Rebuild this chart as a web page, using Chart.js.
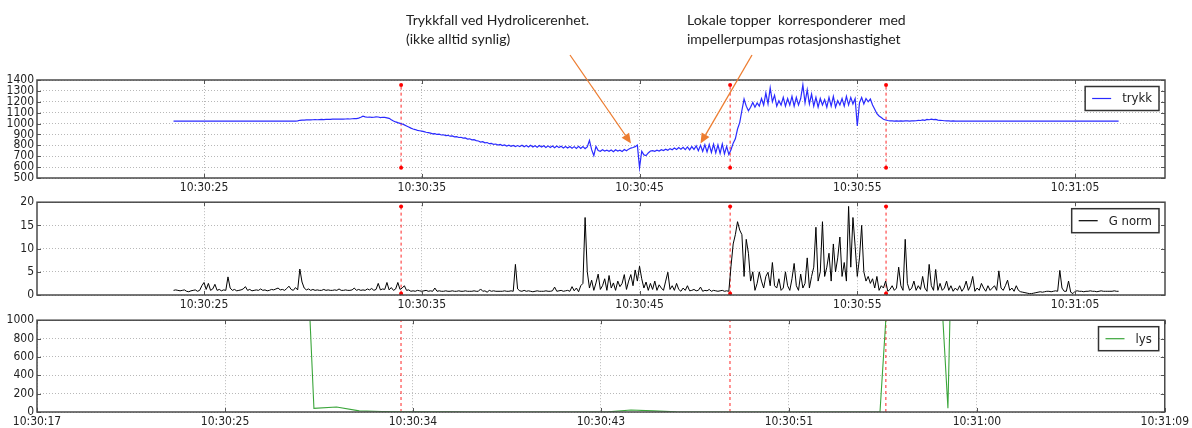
<!DOCTYPE html>
<html lang="no">
<head>
<meta charset="utf-8">
<title>Trykk, G norm og lys</title>
<script src="https://cdn.jsdelivr.net/npm/chart.js@4.4.1/dist/chart.umd.min.js"></script>
<style>
  html, body { margin: 0; padding: 0; background: #fff; }
  #flate { position: relative; width: 1192px; height: 428px; overflow: hidden; }
  #flate canvas { position: absolute; left: 0; }
  .merknad {
    position: absolute;
    font-family: Lato, 'Noto Sans', sans-serif;
    font-size: 14px;
    line-height: 19px;
    color: #222;
    white-space: pre;
  }
</style>
</head>
<body>
<div id="flate">
  <canvas id="trykk-chart" width="1192" height="192" style="top:0"></canvas>
  <canvas id="gnorm-chart" width="1192" height="118" style="top:192px"></canvas>
  <canvas id="lys-chart" width="1192" height="118" style="top:310px"></canvas>
  <div class="merknad" style="left:406px; top:10px">Trykkfall ved Hydrolicerenhet.
(ikke alltid synlig)</div>
  <div class="merknad" style="left:687px; top:10px">Lokale topper  korresponderer  med
impellerpumpas rotasjonshastighet</div>
</div>

<script>
// Tid i sekunder etter 10:30:00
const xMin = 17.33;
const xMax = 69.13;

// Tikk for de to øverste panelene og for lys-panelet
const xTikkTopp = [25, 35, 45, 55, 65];
const xTikkLys = [17.33, 25.97, 34.6, 43.23, 51.87, 60.5, 69.13];

// Røde markeringslinjer (tidspunkt)
const markorTider = [34.05, 49.16, 56.32];

// Trykk: målt hvert 0,1 s fra 10:30:23.6
const trykkStart = 23.6;
const trykkSteg = 0.1;
const trykkVerdier = [
  1022, 1023, 1022, 1022, 1023, 1022, 1022, 1023, 1022, 1022,
  1022, 1023, 1022, 1022, 1022, 1023, 1022, 1022, 1023, 1022,
  1022, 1022, 1023, 1022, 1022, 1022, 1023, 1022, 1022, 1022,
  1023, 1022, 1022, 1022, 1023, 1022, 1022, 1022, 1023, 1022,
  1022, 1022, 1023, 1022, 1022, 1022, 1023, 1022, 1022, 1023,
  1022, 1023, 1022, 1022, 1023, 1022, 1022, 1025, 1030, 1032,
  1032, 1033, 1034, 1033, 1035, 1036, 1035, 1037, 1038, 1037,
  1038, 1039, 1038, 1040, 1041, 1040, 1041, 1042, 1041, 1042,
  1043, 1042, 1044, 1045, 1046, 1050, 1058, 1068, 1062, 1058,
  1060, 1056, 1058, 1062, 1060, 1055, 1058, 1056, 1052, 1048,
  1035, 1024, 1015, 1008, 1002, 996, 988, 978, 968, 958,
  950, 945, 938, 934, 930, 926, 920, 916, 912, 905,
  908, 900, 902, 895, 897, 890, 892, 884, 886, 878,
  880, 872, 874, 866, 868, 858, 860, 850, 852, 843,
  840, 830, 834, 823, 826, 815, 818, 808, 812, 802,
  808, 798, 804, 794, 801, 791, 799, 789, 798, 788,
  800, 786, 798, 784, 800, 785, 797, 783, 798, 784,
  796, 780, 795, 780, 794, 778, 793, 779, 792, 776,
  790, 775, 789, 773, 788, 772, 790, 771, 788, 770,
  785, 845, 760, 706, 790, 752, 745, 760, 748, 755,
  745, 758, 742, 760, 748, 756, 744, 762, 750, 765,
  775, 780, 788, 802, 595, 746, 712, 706, 730, 748,
  752, 745, 755, 748, 760, 752, 765, 755, 770, 760,
  775, 762, 780, 765, 782, 760, 785, 758, 788, 762,
  795, 750, 800, 745, 805, 740, 808, 735, 810, 730,
  805, 725, 812, 722, 790, 716, 760, 820, 860, 950,
  1009, 1120, 1225, 1160, 1117, 1150, 1194, 1150, 1190, 1160,
  1230, 1170, 1280, 1180, 1327, 1200, 1260, 1160, 1210, 1170,
  1240, 1160, 1230, 1170, 1250, 1160, 1240, 1170, 1230, 1355,
  1190, 1310, 1180, 1270, 1160, 1240, 1150, 1230, 1170, 1220,
  1150, 1240, 1160, 1250, 1150, 1210, 1170, 1230, 1160, 1250,
  1170, 1240, 1180, 1230, 978, 1190, 1240, 1180, 1230, 1200,
  1225, 1170, 1132, 1090, 1070, 1055, 1040, 1033, 1028, 1025,
  1024, 1023, 1024, 1022, 1024, 1023, 1025, 1024, 1023, 1024,
  1025, 1026, 1030, 1028, 1034, 1030, 1038, 1035, 1040, 1036,
  1038, 1032, 1030, 1028, 1026, 1025, 1024, 1023, 1024, 1023,
  1022, 1023, 1022, 1022, 1023, 1022, 1022, 1023, 1022, 1022,
  1023, 1022, 1022, 1023, 1022, 1022, 1022, 1023, 1022, 1022,
  1022, 1022, 1023, 1022, 1022, 1023, 1022, 1022, 1022, 1023,
  1022, 1023, 1022, 1022, 1022, 1023, 1022, 1022, 1023, 1022,
  1022, 1022, 1023, 1022, 1023, 1022, 1022, 1022, 1023, 1022,
  1023, 1022, 1022, 1022, 1023, 1022, 1023, 1022, 1022, 1022,
  1022, 1023, 1022, 1022, 1023, 1022, 1022, 1022, 1023, 1022,
  1022, 1023, 1022, 1022, 1022
];

// G norm: samme tidsakse som trykk
const gnormStart = 23.6;
const gnormSteg = 0.1;
const gnormVerdier = [
  1.0, 1.1, 1.0, 0.9, 1.0, 1.1, 0.8, 0.7, 0.9, 1.0,
  1.1, 0.8, 1.0, 2.0, 2.7, 1.2, 2.5, 1.0, 1.3, 2.3,
  1.0, 1.2, 0.9, 1.1, 1.0, 3.9, 1.5, 1.0, 1.2, 0.9,
  1.0, 1.1, 1.3, 1.8, 1.0, 1.2, 0.9, 1.0, 1.1, 1.0,
  1.3, 1.0, 1.1, 0.9, 1.0, 1.2, 1.1, 1.3, 1.5, 1.1,
  1.2, 1.0, 1.4, 1.9, 1.2, 1.0, 1.6, 1.1, 5.6, 2.8,
  1.5, 1.1, 1.3, 1.0, 1.2, 1.0, 1.1, 1.0, 1.0, 1.2,
  1.0, 1.1, 1.0, 1.0, 1.1, 1.0, 1.3, 1.0, 1.0, 1.1,
  1.0, 1.0, 1.1, 1.5, 1.0, 1.2, 1.0, 1.1, 1.0, 1.3,
  1.1, 1.4, 1.0, 1.2, 2.5, 1.1, 1.3, 1.2, 2.7, 1.1,
  1.6, 1.0, 1.3, 2.7, 1.2, 1.5, 2.0, 1.0, 1.1, 0.8,
  0.9, 0.8, 1.0, 0.9, 0.8, 0.9, 1.0, 0.8, 0.9, 0.8,
  1.5, 0.8, 0.9, 0.8, 0.8, 0.9, 0.8, 0.8, 0.9, 0.8,
  0.8, 0.9, 0.8, 0.8, 0.9, 0.8, 0.8, 0.8, 0.9, 0.8,
  0.8, 1.3, 0.8, 0.9, 0.6, 1.0, 0.8, 0.9, 0.8, 0.8,
  0.8, 0.8, 0.9, 0.8, 0.8, 0.9, 0.8, 6.6, 1.3, 0.9,
  0.8, 1.0, 0.8, 0.9, 0.8, 0.7, 0.8, 0.9, 0.8, 0.8,
  0.8, 0.9, 0.8, 0.8, 0.9, 1.7, 0.8, 0.9, 1.0, 0.8,
  0.9, 1.0, 0.8, 1.8, 0.9, 1.5, 0.7, 2.0, 2.5, 16.7,
  5.0, 1.5, 3.2, 1.0, 2.6, 4.5, 1.2, 2.0, 3.5, 1.0,
  4.2, 1.5, 2.6, 1.0, 3.0, 1.8, 2.5, 4.4, 1.2, 3.0,
  4.4, 2.0, 5.4, 3.0, 6.2, 3.5, 1.5, 2.8, 1.0, 2.5,
  1.2, 3.0, 1.0, 2.2, 1.5, 1.0, 3.0, 4.9, 1.2, 2.0,
  1.0, 2.5, 1.2, 0.8, 1.5, 1.0, 2.0, 0.9, 1.0, 1.2,
  0.9, 1.0, 1.7, 0.8, 1.0, 0.9, 1.2, 0.8, 1.0, 0.9,
  0.8, 0.9, 1.0, 0.8, 0.9, 0.8, 6.2, 11.0, 13.0, 15.8,
  14.0, 13.0, 4.0, 12.0, 9.0, 3.0, 5.0, 1.0, 2.5, 5.0,
  3.0, 1.5, 4.0, 4.9, 2.0, 7.0, 2.0, 1.5, 3.5, 1.0,
  1.5, 5.0, 2.0, 1.0, 3.5, 6.8, 2.0, 1.0, 4.5, 1.5,
  2.5, 8.0, 1.5, 4.0, 6.0, 14.6, 3.0, 5.0, 15.8, 4.0,
  6.0, 9.0, 3.0, 11.0, 5.0, 8.0, 12.5, 4.0, 7.0, 3.0,
  19.1, 6.0, 16.7, 10.5, 4.0, 8.0, 15.0, 5.0, 3.0, 4.0,
  2.5, 3.5, 1.5, 4.0, 1.0, 2.0, 1.5, 3.0, 0.8, 1.2,
  2.0, 1.0, 1.5, 6.0, 2.0, 1.0, 12.0, 2.5, 1.0, 1.5,
  3.0, 1.0, 2.0, 1.2, 4.0, 1.5, 0.8, 6.6, 2.0, 1.0,
  5.5, 1.0, 2.5, 1.0, 1.5, 3.0, 1.0, 2.0, 0.8, 1.5,
  1.0, 2.0, 0.8, 1.5, 3.0, 1.0, 2.0, 4.0, 0.8, 1.5,
  1.0, 2.5, 1.5, 0.8, 2.0, 1.0, 1.5, 2.0, 1.0, 5.2,
  1.5, 1.0, 2.0, 3.2, 1.0, 1.5, 0.8, 2.0, 1.0, 0.7,
  0.6, 0.5, 0.4, 0.3, 0.3, 0.4, 0.5, 0.6, 0.7, 0.6,
  0.7, 0.8, 0.8, 0.7, 0.8, 0.9, 0.8, 5.3, 1.5, 0.8,
  0.8, 3.0, 0.6, 0.3, 0.8, 0.9, 0.8, 0.8, 0.7, 0.8,
  0.8, 0.9, 0.8, 0.8, 0.7, 0.8, 0.9, 0.8, 0.8, 0.8,
  0.8, 0.8, 0.9, 0.8, 0.8
];

// Lys: omtrent én måling per sekund
const lysTider = [
  23.81, 24.85, 25.89, 26.93, 27.97, 29.01, 30.05, 31.09, 32.13, 33.17,
  34.21, 35.25, 36.29, 37.33, 38.37, 39.41, 40.45, 41.49, 42.53, 43.57,
  44.61, 45.65, 46.69, 47.73, 48.77, 49.81, 50.85, 51.89, 52.93, 53.97,
  55.01, 56.05, 57.09, 58.13, 59.17, 60.21, 61.25, 62.29, 63.33, 64.37,
  65.41, 66.45
];
const lysVerdier = [
  5400, 5450, 5500, 5550, 5600, 5600, 40, 55, 12, 6,
  3, 2, 1, 0, 0, 0, 0, 0, 0, 1,
  22, 12, 1, 0, 0, 0, 0, 0, 0, 0,
  0, 0, 3900, 4400, 40, 11100, 11300, 11200, 11400, 11300,
  11200, 11300
];

// Piler fra teksten ned til trykkurven (mål i dataenheter, start i piksler)
const pilMaal = [{ x: 44.61, y: 817 }, { x: 47.8, y: 817 }];
const pilStart = [[570, 55], [752, 55]];

const tikkFont = "'Liberation Sans Narrow', 'DejaVu Sans Condensed', 'Arial Narrow', sans-serif";

function klokke(sek) {
    const s = Math.floor(sek + 1e-6);
    const min = 30 + Math.floor(s / 60);
    return '10:' + min + ':' + String(s % 60).padStart(2, '0');
}

// Ramme og små tikk inn mot plottet
const rammePlugin = {
    id: 'ramme',
    afterDatasetsDraw(chart) {
        const ctx = chart.ctx;
        const a = chart.chartArea;
        const sx = chart.scales.x;
        const sy = chart.scales.y;
        ctx.save();
        ctx.strokeStyle = '#555';
        ctx.lineWidth = 1;
        ctx.beginPath();
        sx.ticks.forEach(t => {
            const px = Math.round(sx.getPixelForValue(t.value)) + 0.5;
            ctx.moveTo(px, a.top); ctx.lineTo(px, a.top + 4);
            ctx.moveTo(px, a.bottom); ctx.lineTo(px, a.bottom - 4);
        });
        sy.ticks.forEach(t => {
            const py = Math.round(sy.getPixelForValue(t.value)) + 0.5;
            ctx.moveTo(a.left, py); ctx.lineTo(a.left + 4, py);
            ctx.moveTo(a.right, py); ctx.lineTo(a.right - 4, py);
        });
        ctx.stroke();
        ctx.strokeStyle = '#4a4a4a';
        ctx.lineWidth = 1.5;
        ctx.strokeRect(a.left, a.top, a.right - a.left, a.bottom - a.top);
        ctx.restore();
    }
};

// Forklaring i boks oppe til høyre
const forklaringPlugin = {
    id: 'forklaring',
    afterDraw(chart) {
        const ds = chart.data.datasets[0];
        const ctx = chart.ctx;
        const a = chart.chartArea;
        ctx.save();
        ctx.font = '13px ' + tikkFont;
        const tw = ctx.measureText(ds.label).width;
        const w = tw + 44;
        const h = 24;
        const x = a.right - 6 - w;
        const y = a.top + 6.5;
        ctx.fillStyle = '#fff';
        ctx.fillRect(x, y, w, h);
        ctx.strokeStyle = '#333';
        ctx.lineWidth = 1.5;
        ctx.strokeRect(x, y, w, h);
        ctx.strokeStyle = ds.borderColor;
        ctx.lineWidth = 1.2;
        ctx.beginPath();
        ctx.moveTo(x + 7, y + h / 2);
        ctx.lineTo(x + 26, y + h / 2);
        ctx.stroke();
        ctx.fillStyle = '#222';
        ctx.textBaseline = 'middle';
        ctx.fillText(ds.label, x + 37, y + h / 2 + 0.5);
        ctx.restore();
    }
};

// Oransje piler for merknadene
const pilPlugin = {
    id: 'piler',
    afterDraw(chart) {
        const ctx = chart.ctx;
        const sx = chart.scales.x;
        const sy = chart.scales.y;
        ctx.save();
        ctx.strokeStyle = '#ED7D31';
        ctx.fillStyle = '#ED7D31';
        ctx.lineWidth = 1.3;
        pilMaal.forEach((m, i) => {
            const x0 = pilStart[i][0], y0 = pilStart[i][1];
            const x1 = sx.getPixelForValue(m.x), y1 = sy.getPixelForValue(m.y);
            const v = Math.atan2(y1 - y0, x1 - x0);
            const l = 10, b = 4.5;
            const bx = x1 - l * Math.cos(v), by = y1 - l * Math.sin(v);
            ctx.beginPath();
            ctx.moveTo(x0, y0);
            ctx.lineTo(bx, by);
            ctx.stroke();
            ctx.beginPath();
            ctx.moveTo(x1, y1);
            ctx.lineTo(bx + b * Math.sin(v), by - b * Math.cos(v));
            ctx.lineTo(bx - b * Math.sin(v), by + b * Math.cos(v));
            ctx.closePath();
            ctx.fill();
        });
        ctx.restore();
    }
};

function lagPanel(id, cfg) {
    const punkter = cfg.verdier.map((v, i) => ({
        x: cfg.tider ? cfg.tider[i] : cfg.start + i * cfg.steg,
        y: v
    }));
    const lav = Math.min(...cfg.verdier);
    const hoy = Math.max(...cfg.verdier);

    const datasett = [{
        label: cfg.navn,
        data: punkter,
        borderColor: cfg.farge,
        borderWidth: cfg.linjeBredde,
        pointRadius: 0,
        tension: 0
    }];
    markorTider.forEach(t => {
        datasett.push({
            label: '',
            data: [{ x: t, y: lav }, { x: t, y: hoy }],
            borderColor: 'rgba(255, 0, 0, 0.85)',
            borderWidth: 1,
            borderDash: [3, 3],
            pointRadius: cfg.markorPunkt ? 2 : 0,
            pointBackgroundColor: 'red',
            pointBorderWidth: 0
        });
    });

    const tikkStil = { family: tikkFont, size: 12 };
    const gridStil = { color: '#b8b8b8', drawTicks: false, lineWidth: 1 };

    return new Chart(document.getElementById(id), {
        type: 'line',
        data: { datasets: datasett },
        options: {
            responsive: false,
            animation: false,
            events: [],
            layout: { padding: { top: cfg.toppPad, right: 27, left: 0, bottom: 0 } },
            plugins: {
                legend: { display: false },
                tooltip: { enabled: false }
            },
            scales: {
                x: {
                    type: 'linear',
                    min: xMin,
                    max: xMax,
                    afterBuildTicks: s => { s.ticks = cfg.xTikk.map(v => ({ value: v })); },
                    afterFit: s => { s.height = cfg.xHoyde; },
                    ticks: {
                        callback: v => klokke(v),
                        maxRotation: 0,
                        autoSkip: false,
                        padding: 3,
                        font: tikkStil,
                        color: '#222'
                    },
                    grid: gridStil,
                    border: { display: false, dash: [1, 2] }
                },
                y: {
                    min: cfg.yMin,
                    max: cfg.yMax,
                    afterFit: s => { s.width = 37; },
                    ticks: {
                        stepSize: cfg.ySteg,
                        autoSkip: false,
                        padding: 3,
                        callback: v => String(v),
                        font: tikkStil,
                        color: '#222'
                    },
                    grid: gridStil,
                    border: { display: false, dash: [1, 2] }
                }
            }
        },
        plugins: [rammePlugin, forklaringPlugin].concat(cfg.ekstra || [])
    });
}

lagPanel('trykk-chart', {
    navn: 'trykk', farge: '#2a2aff', linjeBredde: 1.2,
    start: trykkStart, steg: trykkSteg, verdier: trykkVerdier,
    yMin: 500, yMax: 1400, ySteg: 100,
    xTikk: xTikkTopp, toppPad: 80, xHoyde: 14, markorPunkt: true,
    ekstra: [pilPlugin]
});

lagPanel('gnorm-chart', {
    navn: 'G norm', farge: '#000', linjeBredde: 1,
    start: gnormStart, steg: gnormSteg, verdier: gnormVerdier,
    yMin: 0, yMax: 20, ySteg: 5,
    xTikk: xTikkTopp, toppPad: 6, xHoyde: 15, markorPunkt: true
});

lagPanel('lys-chart', {
    navn: 'lys', farge: '#3aa53a', linjeBredde: 1.1,
    tider: lysTider, verdier: lysVerdier,
    yMin: 0, yMax: 1000, ySteg: 200,
    xTikk: xTikkLys, toppPad: 5, xHoyde: 16, markorPunkt: false
});
</script>
</body>
</html>
